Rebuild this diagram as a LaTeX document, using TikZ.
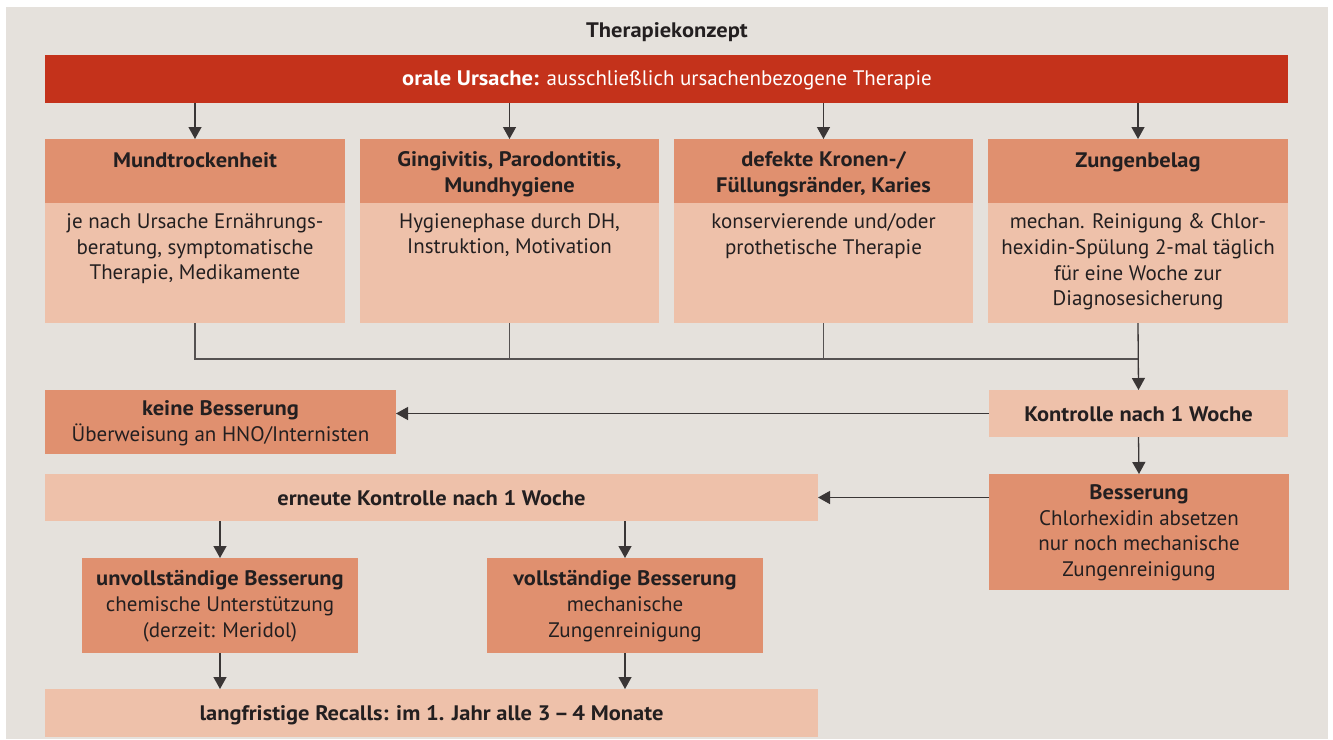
\documentclass[tikz,border=0pt]{standalone}
\usepackage{fontspec}
\setmainfont{PT Sans}[BoldFeatures={FakeStretch=1.07}]
\usetikzlibrary{arrows.meta}
\definecolor{bgc}{HTML}{E5E1DC}
\definecolor{redc}{HTML}{C4321B}
\definecolor{darkc}{HTML}{E0906F}
\definecolor{lightc}{HTML}{EEC1AA}
\definecolor{inkc}{HTML}{231F20}
\definecolor{linec}{HTML}{3A3636}
\definecolor{joinc}{HTML}{555151}
\tikzset{
  boxbase/.style={draw=none, inner sep=0pt, outer sep=0pt, anchor=north west},
  darkbox/.style={boxbase, fill=darkc},
  lightbox/.style={boxbase, fill=lightc},
  redbox/.style={boxbase, fill=redc},
  txt/.style={inner sep=0pt, outer sep=0pt, align=center, text=inkc, yshift=-2.5pt,
    font=\fontsize{21}{25.8}\selectfont,
    execute at begin node=\strut, execute at end node=\strut},
  conn/.style={draw=linec, line width=1.3pt},
  joinline/.style={draw=joinc, line width=1.3pt},
  arr/.style={conn, -{Triangle[length=12pt,width=13pt]}, shorten >=0pt}
}
\begin{document}
\begin{tikzpicture}[x=1pt,y=-1pt]
\useasboundingbox (0,0) rectangle (1333,739);
\fill[bgc] (6,7) rectangle (1328,739);

% title
\node[txt] (title) at (667,30) {\bfseries Therapiekonzept};

% red bar
\node[redbox, minimum width=1243, minimum height=48] (red) at (45,55) {};
\node[txt, text=white] (redt) at (667,78) {\bfseries orale Ursache: \mdseries ausschließlich ursachenbezogene Therapie};

% column headers
\node[darkbox, minimum width=300, minimum height=64] (h1) at (45,139) {};
\node[darkbox, minimum width=299, minimum height=64] (h2) at (360,139) {};
\node[darkbox, minimum width=299, minimum height=64] (h3) at (674,139) {};
\node[darkbox, minimum width=300, minimum height=64] (h4) at (988,139) {};
% column bodies
\node[lightbox, minimum width=300, minimum height=120] (b1) at (45,203) {};
\node[lightbox, minimum width=299, minimum height=120] (b2) at (360,203) {};
\node[lightbox, minimum width=299, minimum height=120] (b3) at (674,203) {};
\node[lightbox, minimum width=300, minimum height=120] (b4) at (988,203) {};

\node[txt] (h1t) at (h1.center |- 0,160) {\bfseries Mundtrockenheit};
\node[txt] (h2t) at (h2.center |- 0,173) {\bfseries Gingivitis, Parodontitis,\\\bfseries Mundhygiene};
\node[txt] (h3t) at (h3.center |- 0,173) {\bfseries defekte Kronen-/\\\bfseries Füllungsränder, Karies};
\node[txt] (h4t) at (h4.center |- 0,160) {\bfseries Zungenbelag};

\node[txt] (b1t) at (b1.center |- 0,248) {je nach Ursache Ernährungs-\\beratung, symptomatische\\Therapie, Medikamente};
\node[txt] (b2t) at (b2.center |- 0,235) {Hygienephase durch DH,\\Instruktion, Motivation};
\node[txt] (b3t) at (b3.center |- 0,235) {konservierende und/oder\\prothetische Therapie};
\node[txt] (b4t) at (b4.center |- 0,261) {mechan. Reinigung \& Chlor-\\hexidin-Spülung 2-mal täglich\\für eine Woche zur\\Diagnosesicherung};

% control boxes
\node[lightbox, minimum width=299, minimum height=47] (ko) at (989,390) {};
\node[txt] (kot) at (ko.center) {\bfseries Kontrolle nach 1 Woche};

\node[darkbox, minimum width=351, minimum height=64] (kb) at (45,390) {};
\node[txt] (kbt) at (kb.center) {\bfseries keine Besserung\\Überweisung an HNO/Internisten};

\node[darkbox, minimum width=300, minimum height=116] (bs) at (989,474) {};
\node[txt] (bst) at (bs.center) {\bfseries Besserung\\Chlorhexidin absetzen\\nur noch mechanische\\Zungenreinigung};

\node[lightbox, minimum width=773, minimum height=47] (ek) at (45,474) {};
\node[txt] (ekt) at (ek.center) {\bfseries erneute Kontrolle nach 1 Woche};

\node[darkbox, minimum width=276, minimum height=95] (uv) at (82,558) {};
\node[txt] (uvt) at (uv.center) {\bfseries unvollständige Besserung\\chemische Unterstützung\\(derzeit: Meridol)};

\node[darkbox, minimum width=276, minimum height=95] (vs) at (487,558) {};
\node[txt] (vst) at (vs.center) {\bfseries vollständige Besserung\\mechanische\\Zungenreinigung};

\node[lightbox, minimum width=773, minimum height=48] (lr) at (45,689) {};
\node[txt] (lrt) at (lr.center) {\bfseries langfristige Recalls: im 1. Jahr alle 3\,–\,4 Monate};

% connectors
\draw[arr] (red.south -| h1.north) -- (h1.north);
\draw[arr] (red.south -| h2.north) -- (h2.north);
\draw[arr] (red.south -| h3.north) -- (h3.north);
\draw[arr] (red.south -| h4.north) -- (h4.north);

\coordinate (jn) at (b4.south |- 0,359);
\draw[joinline] (b1.south) |- (jn);
\draw[joinline] (b2.south) -- (b2.south |- jn);
\draw[joinline] (b3.south) -- (b3.south |- jn);
\draw[arr] (b4.south) -- (ko.north);

\draw[arr] (ko.west) -- (kb.east |- ko.west);
\draw[arr] (ko.south) -- (bs.north);
\draw[arr] (bs.west |- ek.east) -- (ek.east);
\draw[arr] (ek.south -| uv.north) -- (uv.north);
\draw[arr] (ek.south -| vs.north) -- (vs.north);
\draw[arr] (uv.south) -- (uv.south |- lr.north);
\draw[arr] (vs.south) -- (vs.south |- lr.north);
\end{tikzpicture}
\end{document}
